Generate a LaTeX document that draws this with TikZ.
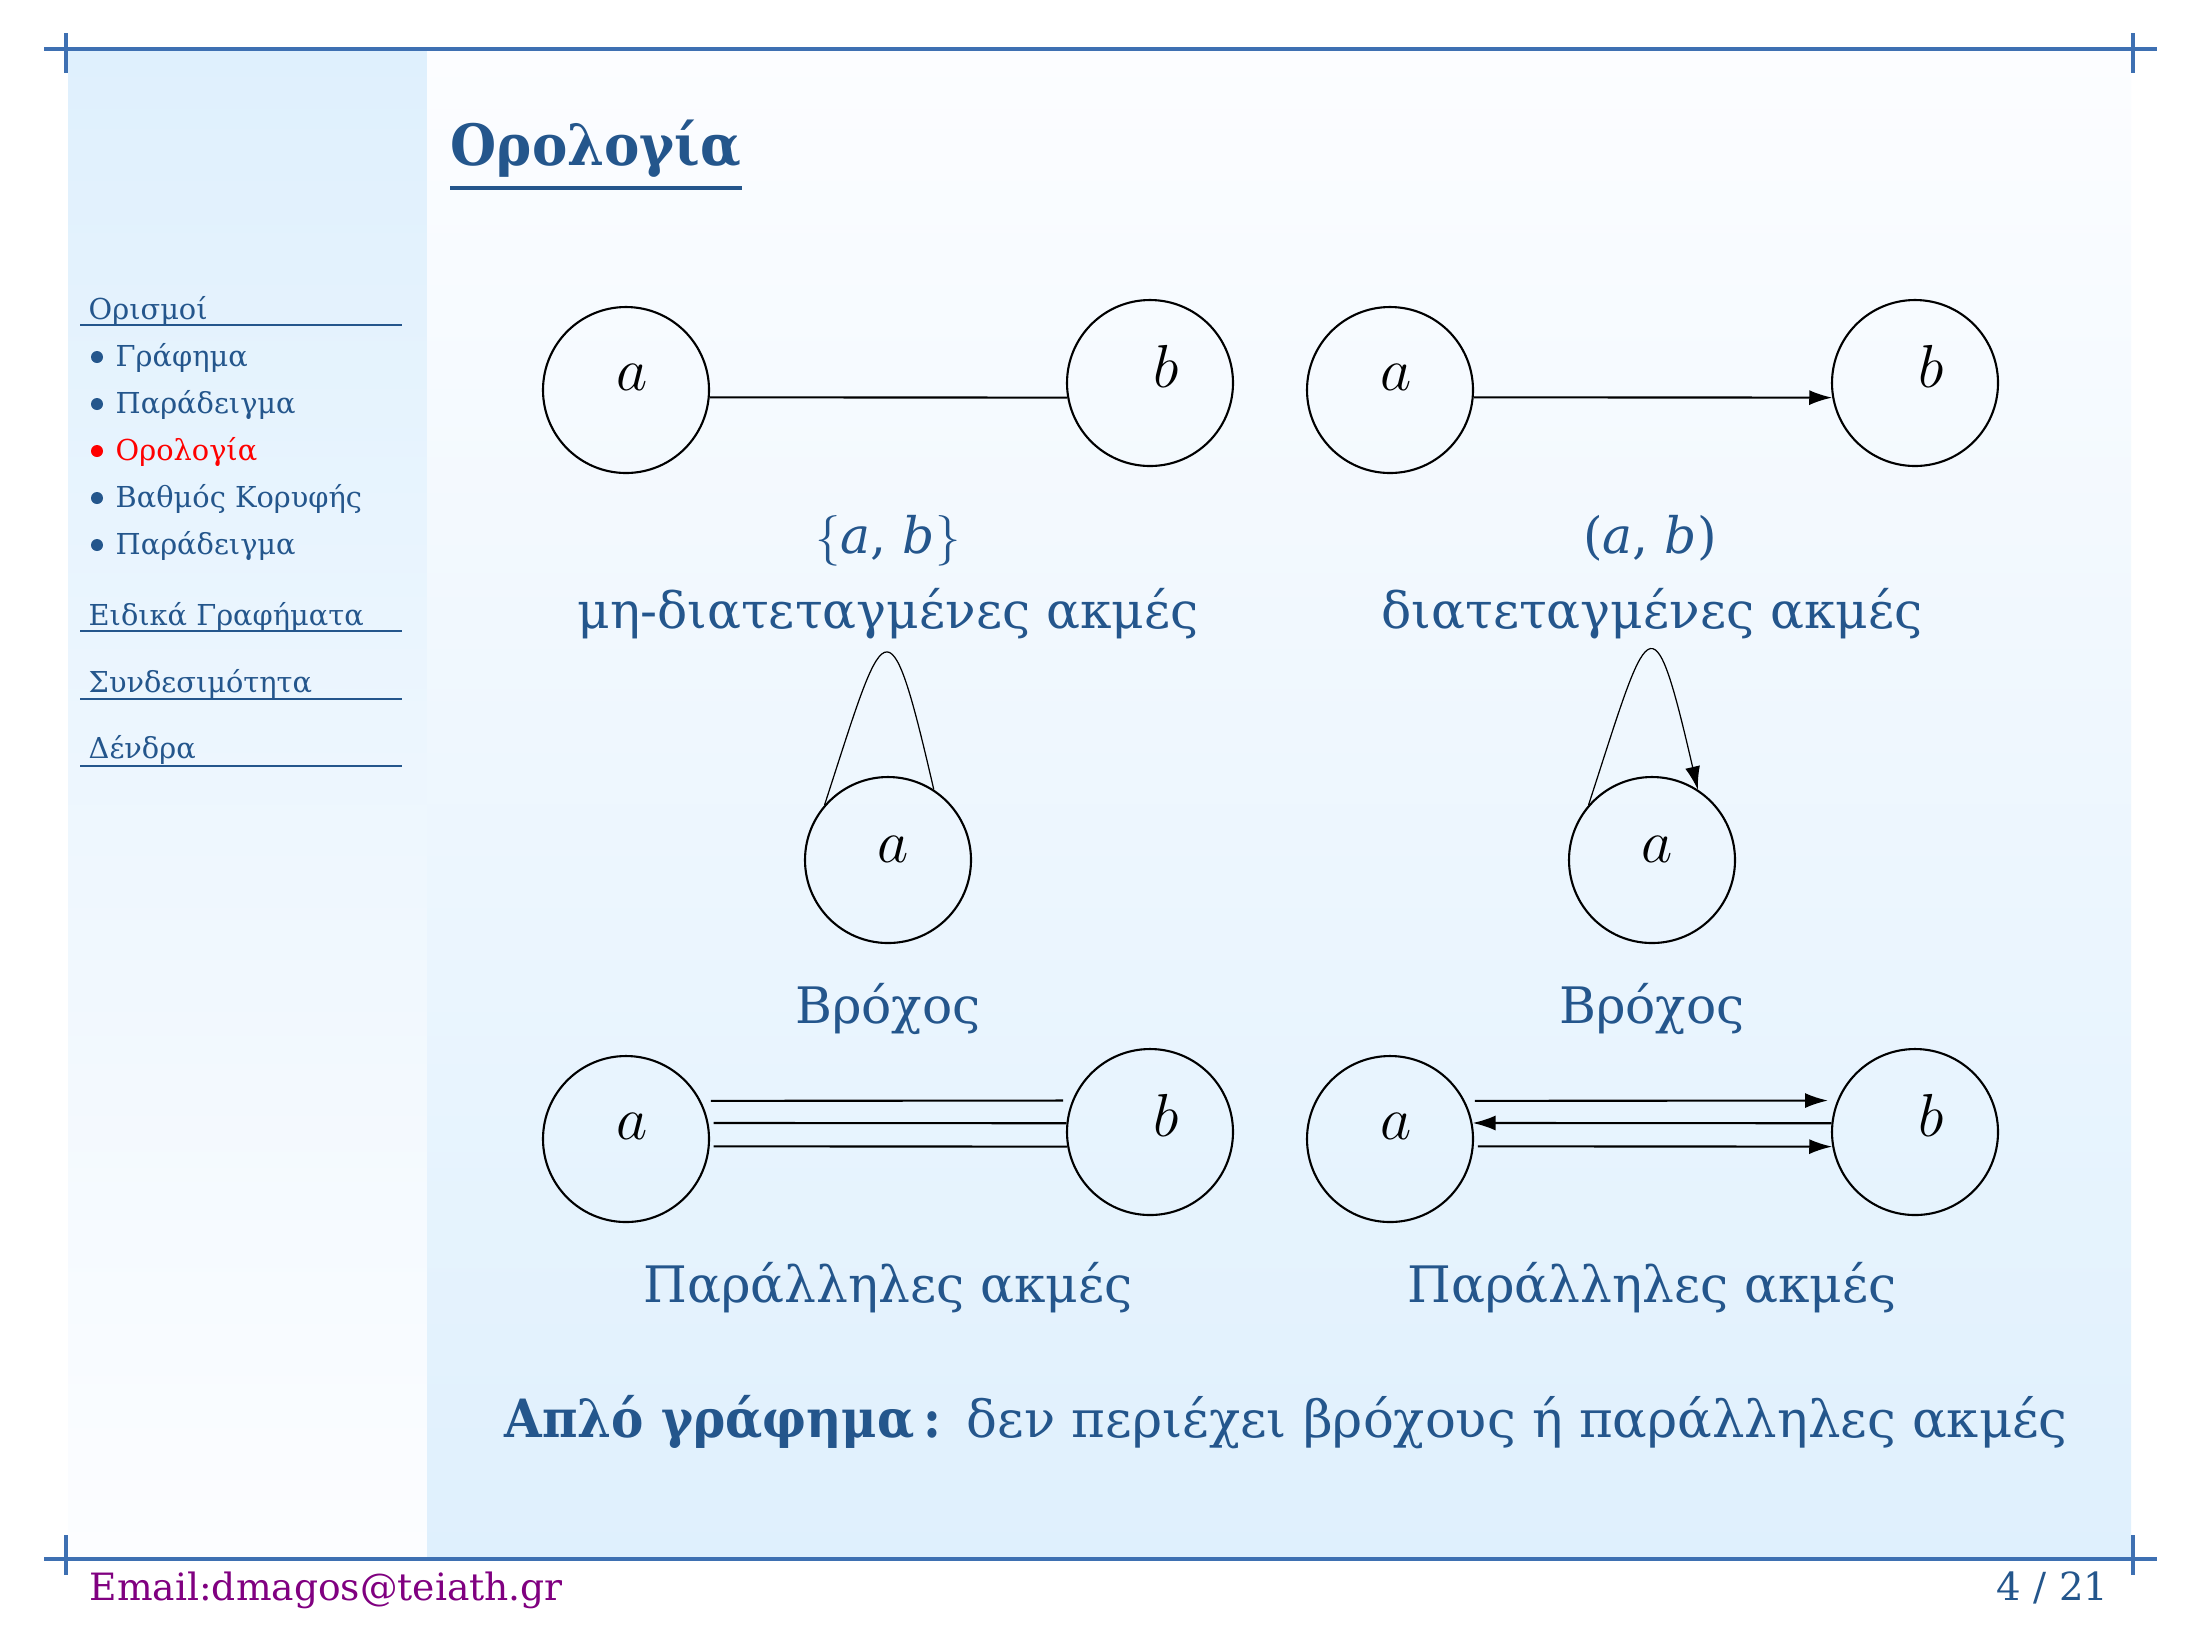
\documentclass[tikz,border=0pt]{standalone}
\usepackage{fontspec}
\setmainfont{DejaVu Serif}
\newfontfamily\headfont[FakeStretch=0.93]{DejaVu Serif Bold}
\newfontfamily\termfont[FakeStretch=0.92]{DejaVu Serif Bold}
\usetikzlibrary{arrows.meta,calc}

\definecolor{struct}{RGB}{36,86,140}
\definecolor{framec}{RGB}{62,112,178}
\definecolor{sky}{RGB}{223,240,253}
\definecolor{paper}{RGB}{252,253,255}
\definecolor{mail}{RGB}{128,0,128}

\tikzset{
  vertex/.style={draw, circle, minimum size=1.66cm, inner sep=0pt, line width=0.6pt},
  vlabel/.style={anchor=base, inner sep=0pt, font=\fontsize{16pt}{18pt}\selectfont},
  edge/.style={line width=0.6pt},
  loopedge/.style={line width=0.35pt},
  tip/.style={-{Latex[length=2.3mm,width=1.5mm]}},
  caption/.style={anchor=base, inner sep=0pt, text=struct, font=\fontsize{14.3pt}{17pt}\selectfont},
  navhead/.style={anchor=base west, inner sep=0pt, text=struct, font=\fontsize{8.2pt}{10pt}\selectfont},
  navitem/.style={anchor=base west, inner sep=0pt, text=struct, font=\fontsize{8.2pt}{10pt}\selectfont},
  navrule/.style={struct, line width=0.7pt},
  frameline/.style={framec, line width=1.2pt},
  frametick/.style={framec, line width=1.15pt}
}

\begin{document}
\begin{tikzpicture}
\useasboundingbox (0,0) rectangle (22,-16.5);
\fill[white] (0,0) rectangle (22,-16.5);

% backgrounds of sidebar and content area
\shade[top color=sky, bottom color=paper] (0.68,-0.51) rectangle (4.27,-15.57);
\shade[top color=paper, bottom color=sky] (4.27,-0.51) rectangle (21.31,-15.57);

% frame rules with corner ticks
\draw[frameline] (0.44,-0.49) -- (21.57,-0.49);
\draw[frameline] (0.44,-15.59) -- (21.57,-15.59);
\draw[frametick] (0.66,-0.33) -- (0.66,-0.73);
\draw[frametick] (21.33,-0.33) -- (21.33,-0.73);
\draw[frametick] (0.66,-15.35) -- (0.66,-15.75);
\draw[frametick] (21.33,-15.35) -- (21.33,-15.75);

% title
\node[anchor=base west, inner sep=0pt, text=struct, font=\fontsize{16.2pt}{18pt}\headfont] (title) at (4.50,-1.65) {Ορολογία};
\draw[struct, line width=1.2pt] ($(title.base west)+(0,-0.23)$) -- ($(title.base east)+(0,-0.23)$);

% navigation sidebar
\node[navhead] (n1) at (0.88,-3.19) {Ορισμοί};
\draw[navrule] (0.80,-3.25) -- (4.02,-3.25);
\node[navitem] (n11) at (1.15,-3.66) {Γράφημα};
\node[navitem] (n12) at (1.15,-4.13) {Παράδειγμα};
\node[navitem, text=red] (n13) at (1.15,-4.60) {Ορολογία};
\node[navitem] (n14) at (1.15,-5.07) {Βαθμός Κορυφής};
\node[navitem] (n15) at (1.15,-5.54) {Παράδειγμα};
\foreach \n in {n11,n12,n14,n15}
  \fill[struct] ([xshift=-0.18cm,yshift=0.09cm]\n.base west) circle (0.06cm);
\fill[red] ([xshift=-0.18cm,yshift=0.09cm]n13.base west) circle (0.06cm);
\node[navhead] (n2) at (0.88,-6.25) {Ειδικά Γραφήματα};
\draw[navrule] (0.80,-6.31) -- (4.02,-6.31);
\node[navhead] (n3) at (0.88,-6.92) {Συνδεσιμότητα};
\draw[navrule] (0.80,-6.99) -- (4.02,-6.99);
\node[navhead] (n4) at (0.88,-7.58) {Δένδρα};
\draw[navrule] (0.80,-7.66) -- (4.02,-7.66);

% undirected edge
\node[vertex] (A1) at (6.26,-3.90) {};
\node[vertex] (B1) at (11.50,-3.83) {};
\node[vlabel] (A1t) at ([xshift=0.06cm]A1.center) {$a$};
\node[vlabel] (B1t) at ([xshift=0.16cm,yshift=-0.04cm]B1.center) {$b$};
\draw[edge] (A1.-5) -- (B1.190);
\node[caption] (cap1a) at (8.88,-5.53) {$\{$\textit{a}, \textit{b}$\}$};
\node[caption] (cap1b) at (8.88,-6.28) {μη-διατεταγμένες ακμές};

% directed edge
\node[vertex] (A2) at (13.90,-3.90) {};
\node[vertex] (B2) at (19.15,-3.83) {};
\node[vlabel] (A2t) at ([xshift=0.06cm]A2.center) {$a$};
\node[vlabel] (B2t) at ([xshift=0.16cm,yshift=-0.04cm]B2.center) {$b$};
\draw[edge, tip] (A2.-5) -- (B2.190);
\node[caption] (cap2a) at (16.50,-5.53) {(\textit{a}, \textit{b})};
\node[caption] (cap2b) at (16.52,-6.28) {διατεταγμένες ακμές};

% loops
\node[vertex] (L1) at (8.88,-8.60) {};
\node[vlabel] (L1t) at ([xshift=0.05cm,yshift=-0.02cm]L1.center) {$a$};
\draw[loopedge] (L1.139) .. controls +(72:1.95) and +(103:2.06) .. (L1.57);
\node[caption] (cap3) at (8.88,-10.23) {Βρόχος};

\node[vertex] (L2) at (16.52,-8.60) {};
\node[vlabel] (L2t) at ([xshift=0.05cm,yshift=-0.02cm]L2.center) {$a$};
\draw[loopedge, tip] (L2.139) .. controls +(72:1.95) and +(103:2.06) .. (L2.57);
\node[caption] (cap4) at (16.52,-10.23) {Βρόχος};

% parallel undirected edges
\node[vertex] (C1) at (6.26,-11.39) {};
\node[vertex] (D1) at (11.50,-11.32) {};
\node[vlabel] (C1t) at ([xshift=0.06cm]C1.center) {$a$};
\node[vlabel] (D1t) at ([xshift=0.16cm,yshift=-0.04cm]D1.center) {$b$};
\draw[edge] ([xshift=0.10cm]C1.27) -- ([xshift=-0.09cm]D1.158);
\draw[edge] ([xshift=0.05cm]C1.11) -- (D1.174);
\draw[edge] ([xshift=0.04cm]C1.-5) -- (D1.190);
\node[caption] (cap5) at (8.88,-13.02) {Παράλληλες ακμές};

% parallel directed edges
\node[vertex] (C2) at (13.90,-11.39) {};
\node[vertex] (D2) at (19.15,-11.32) {};
\node[vlabel] (C2t) at ([xshift=0.06cm]C2.center) {$a$};
\node[vlabel] (D2t) at ([xshift=0.16cm,yshift=-0.04cm]D2.center) {$b$};
\draw[edge, tip] ([xshift=0.10cm]C2.27) -- ([xshift=-0.09cm]D2.158);
\draw[edge, tip] (D2.174) -- (C2.11);
\draw[edge, tip] ([xshift=0.04cm]C2.-5) -- (D2.190);
\node[caption] (cap6) at (16.52,-13.02) {Παράλληλες ακμές};

% definition
\node[anchor=base west, inner sep=0pt, text=struct, font=\fontsize{14.6pt}{17pt}\selectfont] (simple) at (5.04,-14.37)
  {{\fontsize{15pt}{17pt}\termfont Απλό γράφημα\,:}\hspace{0.5em}δεν περιέχει βρόχους ή παράλληλες ακμές};

% footer
\node[anchor=base west, inner sep=0pt, text=mail, font=\fontsize{10.7pt}{13pt}\selectfont] (mail) at (0.89,-16.00) {Email:dmagos@teiath.gr};
\node[anchor=base east, inner sep=0pt, text=struct, font=\fontsize{11pt}{13pt}\selectfont] (page) at (21.09,-16.00) {4 / 21};
\end{tikzpicture}
\end{document}
